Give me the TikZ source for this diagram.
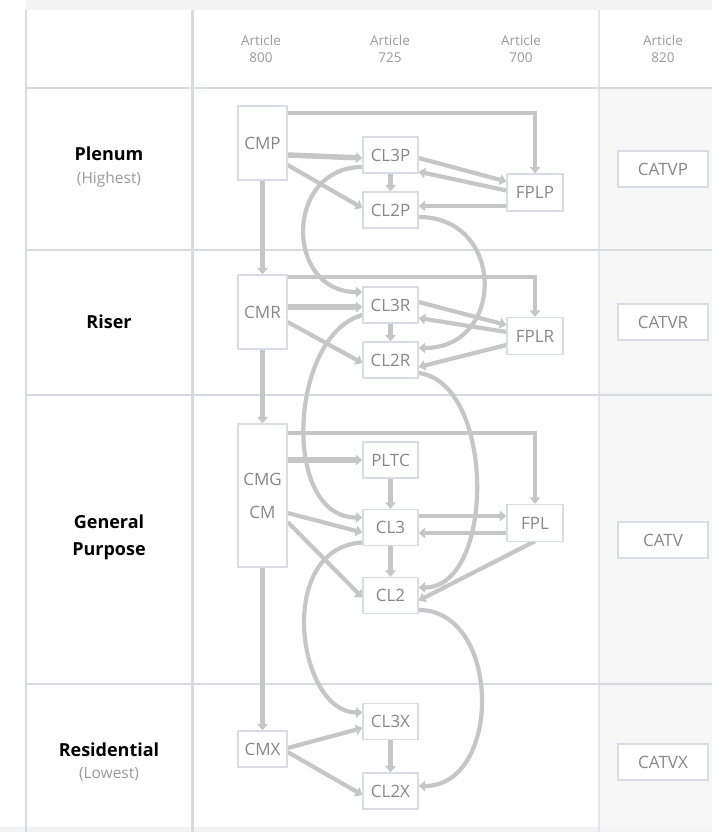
\documentclass[tikz,border=0pt]{standalone}
\usepackage{fontspec}
\setmainfont{Open Sans}
\usetikzlibrary{arrows.meta,calc}
\definecolor{boxline}{HTML}{D9DCE4}
\definecolor{boxtext}{HTML}{888888}
\definecolor{arrowc}{HTML}{C6C6C6}
\definecolor{rulec}{HTML}{D7DAE0}
\definecolor{rulelt}{HTML}{E3E5EA}
\definecolor{colbg}{HTML}{F7F7F7}
\definecolor{headtext}{HTML}{9A9A9A}
\definecolor{shadowc}{HTML}{F3F3F4}
\pgfdeclarelayer{bglayer}
\pgfdeclarelayer{connlayer}
\pgfsetlayers{bglayer,connlayer,main}
\begin{document}
\begin{tikzpicture}[x=1pt,y=-1pt,
  box/.style={draw=boxline,line width=1.3pt,fill=white,text=boxtext,
    font=\fontsize{17}{18}\selectfont,inner sep=0pt,
    minimum width=55pt,minimum height=36pt},
  cmbox/.style={box,minimum width=49pt},
  fbox/.style={box,minimum width=56pt,minimum height=37pt},
  tvbox/.style={box,minimum width=90pt},
  conn/.style={draw=arrowc,line width=4.2pt,-{Triangle[width=10.5pt,length=6.5pt]}},
  wconn/.style={conn,line width=5.5pt},
  hdr/.style={text=headtext,font=\fontsize{13.5}{17.5}\selectfont,align=center},
  lbl/.style={font=\fontsize{18}{27}\selectfont\bfseries,text=black,align=center},
  sublbl/.style={font=\fontsize{15.5}{18}\selectfont,text=headtext}
]
\useasboundingbox (0,0) rectangle (712,832);

% ---------- table ----------
\begin{pgfonlayer}{bglayer}
  \fill[white] (0,0) rectangle (712,832);
  \fill[shadowc] (26,0) rectangle (712,10);
  \fill[colbg] (599,89) rectangle (712,832);
  \fill[shadowc] (0,827) rectangle (712,832);
  \draw[rulec,line width=2pt] (26,10) -- (26,832);
  \draw[rulec,line width=2.5pt] (192.5,10) -- (192.5,832);
  \draw[rulelt,line width=1.5pt] (599,10) -- (599,832);
  \draw[rulec,line width=2pt] (26,88) -- (712,88);
  \draw[rulec,line width=2pt] (26,250) -- (712,250);
  \draw[rulec,line width=2pt] (26,394.5) -- (712,394.5);
  \draw[rulec,line width=2pt] (26,684) -- (712,684);
\end{pgfonlayer}

% ---------- header ----------
\node[hdr] (h800) at (261,49) {Article\\800};
\node[hdr] (h725) at (390,49) {Article\\725};
\node[hdr] (h700) at (521,49) {Article\\700};
\node[hdr] (h820) at (663,49) {Article\\820};

% ---------- row labels ----------
\node[lbl] (lplenum) at (109,154) {Plenum};
\node[sublbl] (lhigh) at (109,179) {(Highest)};
\node[lbl] (lriser) at (109,322) {Riser};
\node[lbl] (lgp) at (109,537) {General\\Purpose};
\node[lbl] (lres) at (109,750) {Residential};
\node[sublbl] (llow) at (109,774) {(Lowest)};

% ---------- boxes ----------
\node[cmbox,minimum height=74pt] (cmp) at (262.5,143) {CMP};
\node[cmbox,minimum height=74pt] (cmr) at (262.5,312) {CMR};
\node[cmbox,minimum height=143pt,align=center,font=\fontsize{17}{33}\selectfont] (cmg) at (262.5,495.5) {CMG\\CM};
\node[cmbox] (cmx) at (262.5,749) {CMX};

\node[box] (cl3p) at (390.5,155) {CL3P};
\node[box] (cl2p) at (390.5,210) {CL2P};
\node[fbox] (fplp) at (535,192.5) {FPLP};

\node[box] (cl3r) at (390.5,305) {CL3R};
\node[box] (cl2r) at (390.5,360) {CL2R};
\node[fbox] (fplr) at (535,336) {FPLR};

\node[box] (pltc) at (390.5,460) {PLTC};
\node[box] (cl3) at (390.5,527.5) {CL3};
\node[box] (cl2) at (390.5,595.5) {CL2};
\node[fbox] (fpl) at (535,523) {FPL};

\node[box] (cl3x) at (390.5,721.5) {CL3X};
\node[box] (cl2x) at (390.5,791) {CL2X};

\node[tvbox] (catvp) at (663,169) {CATVP};
\node[tvbox] (catvr) at (663,322) {CATVR};
\node[tvbox] (catv) at (663,540) {CATV};
\node[tvbox] (catvx) at (663,762) {CATVX};

% ---------- connectors ----------
\begin{pgfonlayer}{connlayer}
  % Plenum
  \draw[conn] ($(cmp.north east)+(0,8)$) -| (fplp.north);
  \draw[wconn] (cmp.east |- cl3p.west) -- ($(cl3p.west)+(0,3)$);
  \draw[conn] ($(cmp.east)+(0,22)$) -- ($(cl2p.west)+(0,-2)$);
  \draw[conn] (cl3p.south) -- (cl2p.north);
  \draw[conn] ($(cl3p.east)+(0,3)$) -- ($(fplp.west)+(0,-11)$);
  \draw[conn] ($(fplp.west)+(0,-2)$) -- ($(cl3p.south east)+(0,-2)$);
  \draw[conn] ($(fplp.west)+(0,13.5)$) -- ($(cl2p.east)+(0,-4)$);
  \draw[conn] (cmp.south) -- (cmr.north);
  \draw[conn] ($(cl3p.west)+(0,12)$) .. controls +(-78,0) and +(-78,0) .. ($(cl3r.west)+(0,-13)$);
  \draw[conn] ($(cl2p.east)+(0,7)$) .. controls +(87,0) and +(87,0) .. ($(cl2r.east)+(0,-12)$);
  % Riser
  \draw[conn] ($(cmr.north east)+(0,3)$) -| (fplr.north);
  \draw[wconn] ($(cmr.east)+(0,-5)$) -- ($(cl3r.west)+(0,2)$);
  \draw[conn] ($(cmr.east)+(0,10)$) -- ($(cl2r.west)+(0,3)$);
  \draw[conn] (cl3r.south) -- (cl2r.north);
  \draw[conn] ($(cl3r.east)+(0,-3)$) -- ($(fplr.west)+(0,-11)$);
  \draw[conn] ($(fplr.west)+(0,-4)$) -- ($(cl3r.east)+(0,13)$);
  \draw[conn] ($(fplr.west)+(0,9)$) -- ($(cl2r.east)+(0,7)$);
  \draw[conn] (cmr.south) -- (cmg.north);
  \draw[conn] ($(cl3r.west)+(0,10)$) .. controls +(-73,20) and +(-82,0) .. ($(cl3.west)+(0,-10)$);
  \draw[conn] ($(cl2r.east)+(0,13)$) .. controls +(77,10) and +(77,0) .. ($(cl2.east)+(0,-8)$);
  % General purpose
  \draw[conn] ($(cmg.north east)+(0,10)$) -| (fpl.north);
  \draw[wconn] (cmg.east |- pltc.west) -- (pltc.west);
  \draw[conn] (pltc.south) -- (cl3.north);
  \draw[conn] ($(cmg.east)+(0,17.5)$) -- ($(cl3.west)+(0,5)$);
  \draw[conn] ($(cmg.east)+(0,26.5)$) -- ($(cl2.west)+(0,2)$);
  \draw[conn] ($(cl3.east)+(0,-11.5)$) -- ($(fpl.west)+(0,-7)$);
  \draw[conn] ($(fpl.west)+(0,10)$) -- ($(cl3.east)+(0,5.5)$);
  \draw[conn] (cl3.south) -- (cl2.north);
  \draw[conn] ($(fpl.south)+(0,-1)$) -- ($(cl2.east)+(0,5)$);
  \draw[conn] ($(cl3.west)+(0,15)$) .. controls +(-88,5) and +(-65,0) .. ($(cl3x.west)+(0,-9)$);
  \draw[conn] ($(cl2.east)+(0,14.5)$) .. controls +(83,0) and +(84,0) .. ($(cl2x.east)+(0,-5)$);
  \draw[conn] (cmg.south) -- (cmx.north);
  % Residential
  \draw[conn] ($(cmx.east)+(0,-1)$) -- ($(cl3x.west)+(0,6.5)$);
  \draw[conn] ($(cmx.east)+(0,3)$) -- ($(cl2x.west)+(0,4)$);
  \draw[conn] (cl3x.south) -- (cl2x.north);
\end{pgfonlayer}
\end{tikzpicture}
\end{document}
